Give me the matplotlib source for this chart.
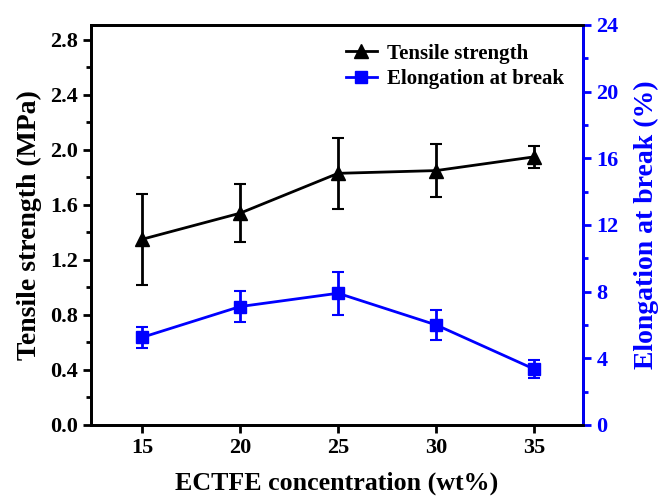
import matplotlib.pyplot as plt
from matplotlib.lines import Line2D
from matplotlib.ticker import MultipleLocator

# data
conc = [15, 20, 25, 30, 35]
tensile = [1.35, 1.54, 1.83, 1.85, 1.95]
tensile_err = [0.33, 0.21, 0.26, 0.19, 0.08]
elong = [5.25, 7.1, 7.9, 6.0, 3.35]
elong_err = [0.65, 0.95, 1.3, 0.9, 0.55]

plt.rcParams['font.family'] = ['Liberation Serif', 'DejaVu Serif']
plt.rcParams['font.weight'] = 'bold'

fig = plt.figure(figsize=(6.59, 4.97), dpi=100)
ax = fig.add_axes([0.138, 0.145, 0.747, 0.805])
ax2 = ax.twinx()

ax.errorbar(conc, tensile, yerr=tensile_err, color='black', marker='^',
            markersize=10, lw=2, elinewidth=2, capsize=4, capthick=1.5)
ax2.errorbar(conc, elong, yerr=elong_err, color='blue', marker='s',
             markersize=8, lw=2, elinewidth=2, capsize=4, capthick=1.5)

ax.set_xlim(12.4, 37.5)
ax.set_ylim(0, 2.91)
ax2.set_ylim(0, 24)
ax.set_xticks(conc)
ax.yaxis.set_major_locator(MultipleLocator(0.4))
ax.yaxis.set_minor_locator(MultipleLocator(0.2))
ax.yaxis.set_major_formatter(plt.FormatStrFormatter('%.1f'))
ax2.yaxis.set_major_locator(MultipleLocator(4))
ax2.yaxis.set_minor_locator(MultipleLocator(2))

for s in ax.spines.values():
    s.set_linewidth(2)
for s in ax2.spines.values():
    s.set_linewidth(2)
ax2.spines['right'].set_color('blue')

ax.tick_params(axis='both', which='major', direction='out', length=6, width=2,
               labelsize=16)
ax.tick_params(axis='y', which='minor', direction='out', length=3.5, width=2)
ax2.tick_params(axis='y', which='major', direction='out', length=6, width=2,
                colors='blue', labelsize=16)
ax2.tick_params(axis='y', which='minor', direction='out', length=3.5, width=2,
                colors='blue')

ax.set_xlabel('ECTFE concentration (wt%)', fontsize=18.7, fontweight='bold', labelpad=10)
ax.set_ylabel('Tensile strength (MPa)', fontsize=20, fontweight='bold', labelpad=6)
ax2.set_ylabel('Elongation at break (%)', fontsize=20, fontweight='bold',
               color='blue', labelpad=11)

handles = [
    Line2D([], [], color='black', marker='^', markersize=10, lw=2),
    Line2D([], [], color='blue', marker='s', markersize=8, lw=2),
]
ax.legend(handles, ['Tensile strength', 'Elongation at break'], loc='upper right',
          frameon=False, fontsize=15, handlelength=1.5, handletextpad=0.5,
          borderaxespad=0.5, labelspacing=0.25)

fig.savefig('out.png', dpi=100)
